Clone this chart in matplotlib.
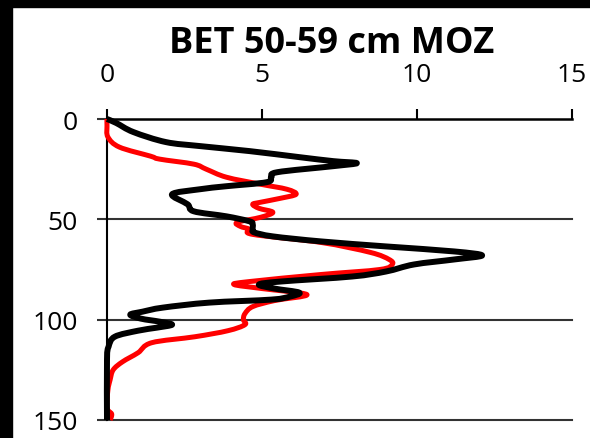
import numpy as np
import matplotlib.pyplot as plt
from matplotlib.patches import Rectangle, PathPatch
from matplotlib.path import Path

plt.rcParams['font.family'] = ['Open Sans', 'DejaVu Sans']

# black profile (depth in cm, value)
black_depth = [0, 2, 6.5, 11.5, 13.5, 16, 19, 21, 22, 23.5, 26.5, 29, 31.5, 33.5, 35, 37.5,
               42.5, 46, 48.5, 51, 52.5, 55, 56.5, 58.5, 61, 63.5, 66, 68, 70, 72.5, 76,
               78.5, 81, 82.5, 84.5, 86.5, 88.5, 90, 91.5, 94, 96, 97.5, 99.5, 101, 102.5,
               104, 105.5, 108.5, 113.5, 120, 150]
black_val = [0, 0.3, 0.85, 1.9, 3.0, 4.6, 6.2, 7.3, 8.06, 7.3, 5.5, 5.3, 5.15, 3.85, 3.0, 2.1,
             2.6, 2.8, 3.85, 4.6, 4.7, 4.7, 4.75, 5.35, 6.9, 9.0, 11.2, 12.1, 11.2, 9.9, 9.0,
             7.9, 5.6, 4.9, 5.4, 6.2, 5.9, 5.3, 3.3, 1.8, 1.15, 0.75, 1.1, 1.7, 2.1,
             1.6, 1.0, 0.25, 0.05, 0, 0]

# red profile
red_depth = [0, 3.5, 9, 14, 18.5, 20, 22.5, 25, 29, 32.5, 35, 37.5, 39.5, 41.5, 42.5, 44.5,
             46.5, 49, 51.5, 53.5, 55, 57.5, 61.5, 66.5, 70, 72.5, 75, 77.5, 81, 82.5, 84.5,
             87.5, 90.5, 93.5, 97, 100, 102.5, 105.5, 108.5, 111.5, 116.5, 121, 125, 130,
             135, 144, 147, 150]
red_val = [0, 0, 0.03, 0.4, 1.4, 1.7, 2.8, 3.2, 3.85, 4.95, 5.8, 6.1, 5.6, 4.95, 4.7, 4.9,
           5.35, 4.95, 4.2, 4.3, 4.6, 4.7, 6.9, 8.5, 9.1, 9.2, 8.8, 6.9, 4.6, 4.1, 5.0,
           6.45, 5.4, 4.7, 4.45, 4.4, 4.45, 3.9, 2.84, 1.44, 1.0, 0.5, 0.2, 0.1,
           0.03, 0, 0.15, 0.1]


def smooth_path(xs, ys):
    # smoothed line through the points (Catmull-Rom segments as cubic Beziers)
    pts = np.column_stack([xs, ys]).astype(float)
    n = len(pts)
    verts = [pts[0]]
    codes = [Path.MOVETO]
    for i in range(n - 1):
        p0 = pts[i - 1] if i > 0 else pts[i]
        p1 = pts[i]
        p2 = pts[i + 1]
        p3 = pts[i + 2] if i + 2 < n else pts[i + 1]
        verts += [p1 + (p2 - p0) / 6, p2 - (p3 - p1) / 6, p2]
        codes += [Path.CURVE4] * 3
    return Path(verts, codes)


fig = plt.figure(figsize=(5.9, 4.39), dpi=100)
ax = fig.add_axes([107 / 590, 1 - 421 / 439, 465 / 590, 301 / 439])

ax.add_patch(PathPatch(smooth_path(red_val, red_depth), fill=False, edgecolor='#ff0000',
                       lw=3.6, joinstyle='round', capstyle='butt', clip_on=False, zorder=3))
ax.add_patch(PathPatch(smooth_path(black_val, black_depth), fill=False, edgecolor='black',
                       lw=4.3, joinstyle='round', capstyle='butt', clip_on=False, zorder=4))

ax.set_xlim(0, 15)
ax.set_ylim(150, 0)
ax.set_xticks([0, 5, 10, 15])
ax.set_yticks([0, 50, 100, 150])
ax.xaxis.tick_top()
ax.tick_params(axis='x', direction='out', length=7, width=1.5, color='black',
               labelsize=19, pad=16)
ax.tick_params(axis='y', direction='out', length=7, width=1.5, color='#333333',
               labelsize=19, pad=14)

for side in ['right', 'bottom']:
    ax.spines[side].set_visible(False)
ax.spines['top'].set_linewidth(1.8)
ax.spines['left'].set_linewidth(1.5)

for d in [50, 100, 150]:
    ax.axhline(d, color='#333333', lw=1.5, zorder=1, clip_on=False)

fig.text(332 / 590, 1 - 53 / 439, 'BET 50-59 cm MOZ', ha='center', va='baseline',
         fontsize=26, fontweight='bold')

# dark frame along the left and top edges
fig.patches.append(Rectangle((0, 0), 12 / 590, 1, transform=fig.transFigure,
                             color='black', zorder=10))
fig.patches.append(Rectangle((0, 1 - 8 / 439), 1, 8 / 439, transform=fig.transFigure,
                             color='black', zorder=10))

fig.savefig('out.png', dpi=100)
